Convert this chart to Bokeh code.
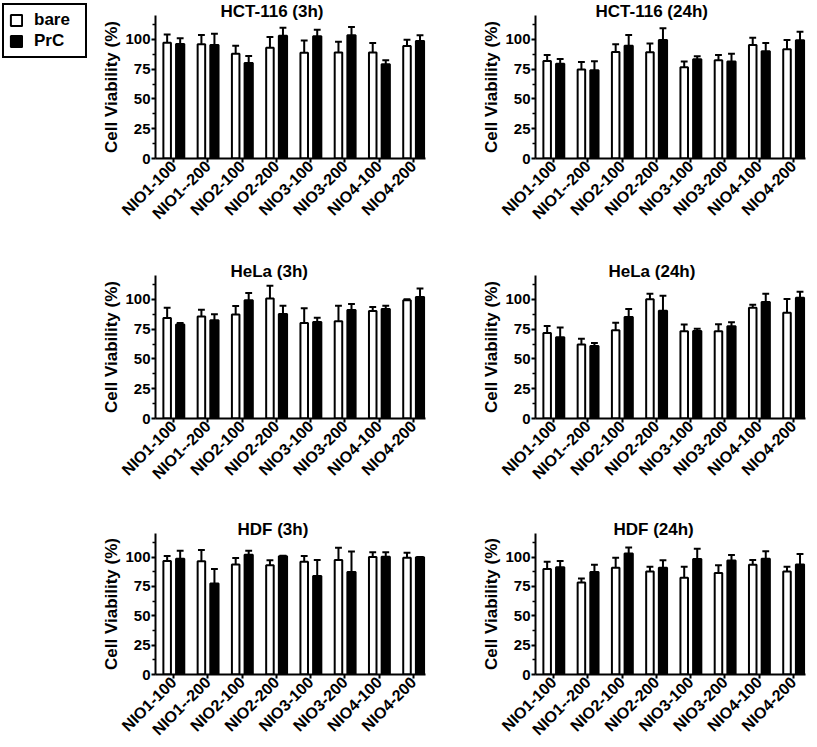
import math
from bokeh.plotting import figure
from bokeh.models import Range1d, FixedTicker, ColumnDataSource, Legend, LegendItem
from bokeh.layouts import row, column
from bokeh.transform import dodge
from bokeh.embed import file_html
from bokeh.resources import INLINE

samples = ["NIO1-100", "NIO1--200", "NIO2-100", "NIO2-200",
           "NIO3-100", "NIO3-200", "NIO4-100", "NIO4-200"]
y_ticks = [0, 25, 50, 75, 100]
y_minor = [12.5, 37.5, 62.5, 87.5, 112.5]
series_names = ["bare", "PrC"]
y_title = "Cell Viability (%)"

# HCT-116 (3h)
hct3_bare = [97.2, 95.8, 88.0, 93.0, 88.8, 89.0, 89.0, 94.4]
hct3_bare_sd = [6.8, 7.8, 6.7, 9.0, 10.2, 9.0, 8.0, 5.3]
hct3_prc = [96.0, 95.2, 80.2, 103.0, 102.5, 103.4, 79.0, 98.6]
hct3_prc_sd = [5.0, 9.5, 5.8, 6.8, 5.5, 6.9, 3.4, 4.8]
# HCT-116 (24h)
hct24_bare = [81.8, 74.6, 89.4, 89.1, 76.5, 82.4, 95.3, 91.6]
hct24_bare_sd = [5.1, 6.4, 6.4, 7.3, 4.8, 4.5, 6.1, 7.8]
hct24_prc = [79.6, 74.0, 94.7, 99.4, 83.2, 81.3, 90.0, 99.2]
hct24_prc_sd = [3.9, 7.6, 8.9, 9.8, 2.6, 6.7, 7.0, 7.2]
# HeLa (3h)
hela3_bare = [84.4, 85.5, 87.2, 100.8, 80.2, 81.6, 90.2, 99.2]
hela3_bare_sd = [8.6, 5.8, 7.2, 10.7, 12.3, 13.1, 3.4, 0.8]
hela3_prc = [78.8, 82.4, 99.2, 87.7, 81.0, 91.0, 91.9, 102.0]
hela3_prc_sd = [1.4, 5.0, 6.1, 7.0, 3.6, 5.0, 2.8, 7.0]
# HeLa (24h)
hela24_bare = [71.8, 62.0, 74.0, 100.0, 73.2, 73.2, 93.0, 88.8]
hela24_bare_sd = [5.9, 5.0, 6.4, 4.7, 5.6, 5.8, 2.5, 11.5]
hela24_prc = [68.2, 60.9, 85.2, 90.5, 73.5, 77.4, 97.8, 101.4]
hela24_prc_sd = [8.1, 2.5, 6.7, 12.5, 1.9, 3.3, 6.9, 5.0]
# HDF (3h)
hdf3_bare = [96.6, 96.4, 93.6, 93.0, 96.0, 97.5, 100.0, 99.4]
hdf3_bare_sd = [4.2, 9.5, 5.6, 4.2, 4.8, 10.3, 4.0, 4.2]
hdf3_prc = [98.6, 77.4, 102.0, 100.6, 83.8, 87.2, 100.3, 99.7]
hdf3_prc_sd = [6.7, 12.3, 3.3, 0.4, 13.7, 17.5, 3.7, 0.4]
# HDF (24h)
hdf24_bare = [89.7, 78.2, 90.8, 87.7, 82.4, 86.3, 93.3, 87.7]
hdf24_bare_sd = [6.3, 3.6, 8.6, 3.9, 9.2, 6.7, 4.2, 3.9]
hdf24_prc = [91.3, 87.2, 103.0, 90.8, 98.3, 97.0, 98.6, 93.6]
hdf24_prc_sd = [5.3, 6.1, 5.0, 6.4, 8.7, 4.7, 6.4, 8.9]

FONT = "Liberation Sans"
OFF = 0.19


def panel(title, bare, bare_sd, prc, prc_sd, width, height, mbl, mbr, mbt, mbb, title_offset):
    p = figure(width=width, height=height,
               x_range=Range1d(-0.53, 7.35), y_range=Range1d(0, 120),
               output_backend="svg", toolbar_location=None,
               min_border_left=mbl, min_border_right=mbr,
               min_border_top=mbt, min_border_bottom=mbb)
    p.outline_line_color = None
    p.xgrid.visible = False
    p.ygrid.visible = False
    p.background_fill_color = "white"
    p.border_fill_color = "white"

    p.title.text = title
    p.title.align = "left"
    p.title.offset = title_offset
    p.title.standoff = -10
    p.title.text_font = FONT
    p.title.text_font_style = "bold"
    p.title.text_font_size = "17px"
    p.title.text_color = "black"

    src = ColumnDataSource(dict(
        idx=list(range(len(samples))),
        bare=bare, bare_hi=[m + s for m, s in zip(bare, bare_sd)],
        prc=prc, prc_hi=[m + s for m, s in zip(prc, prc_sd)],
    ))

    for col, off, fill, w in (("bare", -OFF, "white", 0.22), ("prc", OFF, "black", 0.24)):
        p.vbar(x=dodge("idx", off), top=col, bottom=0, width=w, source=src,
               fill_color=fill, line_color="black", line_width=2)
        p.segment(x0=dodge("idx", off), x1=dodge("idx", off), y0=col, y1=col + "_hi",
                  source=src, line_color="black", line_width=2)
        p.segment(x0=dodge("idx", off - 0.1), x1=dodge("idx", off + 0.1),
                  y0=col + "_hi", y1=col + "_hi",
                  source=src, line_color="black", line_width=2)

    xa = p.xaxis[0]
    xa.ticker = FixedTicker(ticks=list(range(len(samples))))
    xa.major_label_overrides = {i: s for i, s in enumerate(samples)}
    xa.major_label_orientation = math.pi / 4
    xa.minor_tick_line_color = None

    ya = p.yaxis[0]
    ya.ticker = FixedTicker(ticks=y_ticks, minor_ticks=y_minor)
    ya.axis_label = y_title
    ya.axis_label_text_font = FONT
    ya.axis_label_text_font_style = "bold"
    ya.axis_label_text_font_size = "17px"
    ya.axis_label_text_color = "black"
    ya.axis_label_standoff = 1
    ya.minor_tick_line_width = 1.5
    ya.minor_tick_out = 3
    ya.minor_tick_in = 0

    for ax in (xa, ya):
        ax.axis_line_width = 2
        ax.axis_line_color = "black"
        ax.major_tick_line_width = 2
        ax.major_tick_line_color = "black"
        ax.major_tick_out = 4
        ax.major_tick_in = 0
        ax.major_label_text_font = FONT
        ax.major_label_text_font_style = "bold"
        ax.major_label_text_color = "black"
    xa.major_label_text_font_size = "16px"
    xa.major_label_standoff = 1
    ya.major_label_text_font_size = "15px"
    ya.major_label_standoff = 1
    return p


# legend figure; its proxy renderers carry no drawable data
nan = float("nan")
lf = figure(width=88, height=250, x_range=Range1d(0, 1), y_range=Range1d(0, 1),
            output_backend="svg", toolbar_location=None,
            x_axis_location=None, y_axis_location=None,
            min_border_left=0, min_border_right=0, min_border_bottom=0, min_border_top=1)
lf.frame_align = False
lf.outline_line_color = None
lf.xgrid.visible = False
lf.ygrid.visible = False
r_bare = lf.vbar(x=[nan], top=[nan], width=0.1, fill_color="white", line_color="black", line_width=2)
r_prc = lf.vbar(x=[nan], top=[nan], width=0.1, fill_color="black", line_color="black", line_width=2)
leg = Legend(items=[LegendItem(label=series_names[0], renderers=[r_bare]),
                    LegendItem(label=series_names[1], renderers=[r_prc])],
             location="top_left", margin=2, padding=5, spacing=1,
             glyph_width=14, glyph_height=14, label_height=20, label_width=46,
             label_standoff=11,
             label_text_font=FONT, label_text_font_style="bold", label_text_font_size="17px",
             label_text_color="black",
             border_line_color="black", border_line_width=2, border_line_alpha=1,
             background_fill_color="white", background_fill_alpha=1)
lf.add_layout(leg)

tl = panel("HCT-116 (3h)", hct3_bare, hct3_bare_sd, hct3_prc, hct3_prc_sd,
           352, 250, 67, 15, 15, 92, 65)
tr = panel("HCT-116 (24h)", hct24_bare, hct24_bare_sd, hct24_prc, hct24_prc_sd,
           377, 250, 95, 12, 15, 92, 60)
ml = panel("HeLa (3h)", hela3_bare, hela3_bare_sd, hela3_prc, hela3_prc_sd,
           440, 258, 155, 15, 25, 90, 75)
mr = panel("HeLa (24h)", hela24_bare, hela24_bare_sd, hela24_prc, hela24_prc_sd,
           377, 258, 95, 12, 25, 90, 73)
bl = panel("HDF (3h)", hdf3_bare, hdf3_bare_sd, hdf3_prc, hdf3_prc_sd,
           440, 239, 155, 15, 25, 71, 82)
br = panel("HDF (24h)", hdf24_bare, hdf24_bare_sd, hdf24_prc, hdf24_prc_sd,
           377, 239, 95, 12, 25, 71, 78)

layout = column(row(lf, tl, tr), row(ml, mr), row(bl, br))

open("out.html", "w").write(file_html(layout, INLINE))
